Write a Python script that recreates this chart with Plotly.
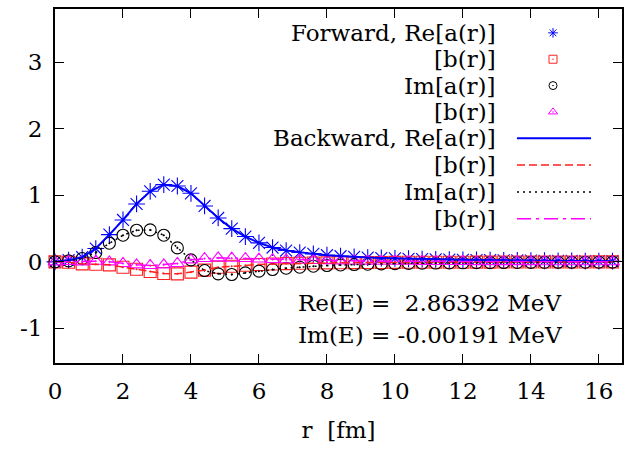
import plotly.graph_objects as go

# radial grid [fm]
r = [0.0, 0.4, 0.8, 1.2, 1.6, 2.0, 2.4, 2.8, 3.2, 3.6, 4.0, 4.4, 4.8, 5.2,
     5.6, 6.0, 6.4, 6.8, 7.2, 7.6, 8.0, 8.4, 8.8, 9.2, 9.6, 10.0, 10.4, 10.8,
     11.2, 11.6, 12.0, 12.4, 12.8, 13.2, 13.6, 14.0, 14.4, 14.8, 15.2, 15.6,
     16.0, 16.4]

re_a = [0.0, 0.025, 0.07, 0.20, 0.41, 0.63, 0.87, 1.06, 1.16, 1.14, 1.03,
        0.84, 0.66, 0.50, 0.38, 0.285, 0.215, 0.17, 0.14, 0.12, 0.10, 0.085,
        0.075, 0.065, 0.058, 0.052, 0.047, 0.042, 0.038, 0.034, 0.031, 0.028,
        0.025, 0.023, 0.021, 0.019, 0.017, 0.015, 0.014, 0.012, 0.011, 0.010]

re_b = [0.0, -0.005, -0.03, -0.035, -0.045, -0.08, -0.11, -0.145, -0.175,
        -0.18, -0.155, -0.125, -0.08, -0.065, -0.05, -0.04, -0.033, -0.027,
        -0.022, -0.018, -0.015, -0.013, -0.011, -0.010, -0.009, -0.008,
        -0.007, -0.006, -0.006, -0.005, -0.005, -0.004, -0.004, -0.003,
        -0.003, -0.003, -0.002, -0.002, -0.002, -0.002, -0.001, -0.001]

im_a = [0.0, 0.015, 0.05, 0.14, 0.28, 0.40, 0.475, 0.48, 0.40, 0.21, 0.03,
        -0.13, -0.18, -0.19, -0.165, -0.14, -0.115, -0.095, -0.08, -0.065,
        -0.055, -0.047, -0.04, -0.035, -0.03, -0.026, -0.023, -0.02, -0.018,
        -0.016, -0.014, -0.012, -0.011, -0.010, -0.009, -0.008, -0.007,
        -0.006, -0.006, -0.005, -0.005, -0.004]

im_b = [0.0, 0.005, 0.0, 0.01, 0.0, -0.025, -0.045, -0.055, -0.045, -0.025,
        0.03, 0.05, 0.06, 0.055, 0.05, 0.042, 0.035, 0.03, 0.025, 0.021,
        0.018, 0.015, 0.013, 0.011, 0.010, 0.009, 0.008, 0.007, 0.006, 0.005,
        0.005, 0.004, 0.004, 0.003, 0.003, 0.003, 0.002, 0.002, 0.002, 0.002,
        0.001, 0.001]

x_ticks = [0, 2, 4, 6, 8, 10, 12, 14, 16]
y_ticks = [-1, 0, 1, 2, 3]

legend_labels = ["Forward, Re[a(r)]", "[b(r)]", "Im[a(r)]", "[b(r)]",
                 "Backward, Re[a(r)]", "[b(r)]", "Im[a(r)]", "[b(r)]"]
energy_lines = ["Re(E) =\u00a0 2.86392 MeV", "Im(E) = -0.00191 MeV"]

BLUE = "#0000ff"
RED = "#ff2020"
BLACK = "#000000"
MAGENTA = "#ff00ff"
FONT = "'DejaVu Serif', 'Liberation Serif', serif"
FSIZE = 23

point_styles = [
    (re_a, "asterisk-open", BLUE, 14),
    (re_b, "square-open-dot", RED, 12),
    (im_a, "circle-open-dot", BLACK, 12),
    (im_b, "triangle-up-open-dot", MAGENTA, 12),
]
line_styles = [
    (re_a, BLUE, "solid", 2),
    (re_b, RED, "8px,4px", 1.5),
    (im_a, BLACK, "2px,4px", 1.5),
    (im_b, MAGENTA, "14px,5px,3px,5px", 1.5),
]

fig = go.Figure()

for ys, sym, col, sz in point_styles:
    fig.add_trace(go.Scatter(
        x=r, y=ys, mode="markers", showlegend=False, hoverinfo="skip",
        cliponaxis=False,
        marker=dict(symbol=sym, size=sz, color=col,
                    line=dict(color=col, width=1.1))))

for ys, col, dash, w in line_styles:
    fig.add_trace(go.Scatter(
        x=r, y=ys, mode="lines", showlegend=False, hoverinfo="skip",
        line=dict(color=col, dash=dash, width=w)))

# key: labels right-aligned, samples to their right (pixel-like overlay axes)
row_y = [31, 57.5, 84, 110.5, 137, 164, 191, 218]
text_right = 498
sample_x = 553
for i, (ys, sym, col, sz) in enumerate(point_styles):
    fig.add_trace(go.Scatter(
        x=[sample_x], y=[row_y[i]], xaxis="x2", yaxis="y2", mode="markers",
        showlegend=False, hoverinfo="skip",
        marker=dict(symbol=sym, size=8, color=col,
                    line=dict(color=col, width=1))))
for j, (ys, col, dash, w) in enumerate(line_styles):
    fig.add_trace(go.Scatter(
        x=[517, 591], y=[row_y[4 + j]] * 2, xaxis="x2", yaxis="y2",
        mode="lines", showlegend=False, hoverinfo="skip",
        line=dict(color=col, dash=dash, width=w)))

annotations = []
for label, yy in zip(legend_labels, row_y):
    annotations.append(dict(
        x=text_right, y=yy, xref="x2", yref="y2", text=label,
        showarrow=False, xanchor="right", yanchor="middle",
        font=dict(family=FONT, size=FSIZE, color="black")))
for k, txt in enumerate(energy_lines):
    annotations.append(dict(
        x=296, y=303 + 32 * k, xref="x2", yref="y2", text=txt,
        showarrow=False, xanchor="left", yanchor="middle",
        font=dict(family=FONT, size=FSIZE, color="black")))

axis_common = dict(
    showline=True, linewidth=2, linecolor="black", mirror="ticks",
    ticks="inside", ticklen=9, tickwidth=1.2, tickcolor="black",
    showgrid=False, zeroline=False,
    tickfont=dict(family=FONT, size=FSIZE, color="black"),
)

fig.update_layout(
    width=640, height=450,
    margin=dict(l=55, r=18, t=7, b=87),
    paper_bgcolor="white", plot_bgcolor="white",
    font=dict(family=FONT, size=FSIZE, color="black"),
    xaxis=dict(range=[0, 16.68], tickvals=x_ticks,
               ticktext=[str(v) for v in x_ticks],
               title=dict(text="r\u00a0 [fm]", standoff=19,
                          font=dict(family=FONT, size=FSIZE)),
               ticklabelstandoff=6, **axis_common),
    yaxis=dict(range=[-1.52, 3.8], tickvals=y_ticks,
               ticktext=[str(v) for v in y_ticks],
               ticklabelstandoff=6, **axis_common),
    xaxis2=dict(overlaying="x", range=[55, 622], visible=False),
    yaxis2=dict(overlaying="y", range=[363, 7], visible=False),
    annotations=annotations,
    showlegend=False,
)

fig.write_html("out.html")
